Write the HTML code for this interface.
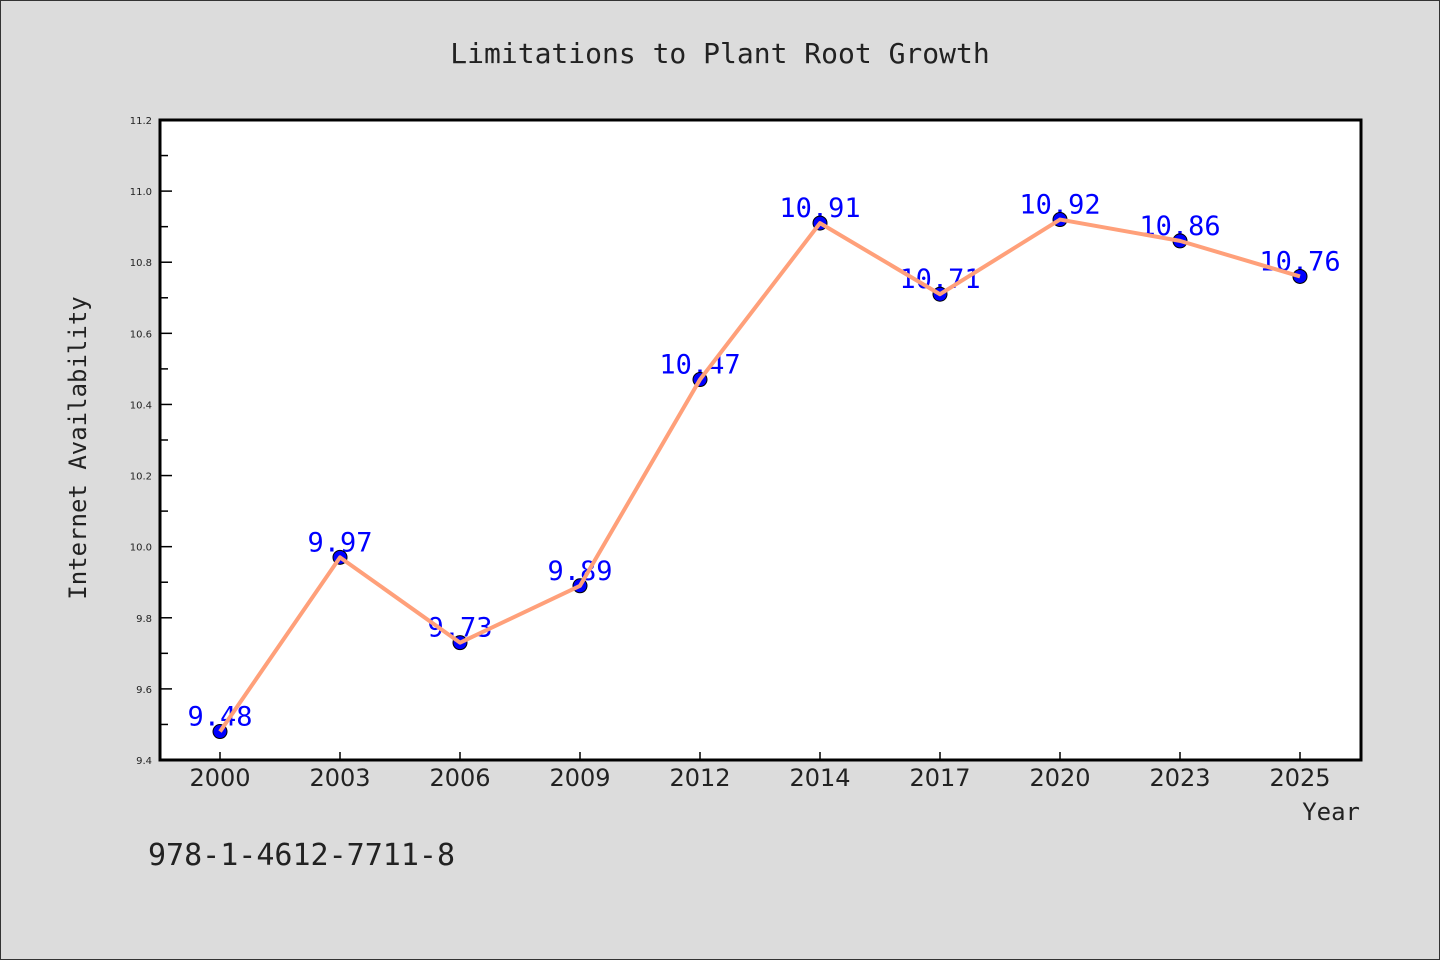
<!DOCTYPE html>
<html><head><meta charset="utf-8"><style>
body{margin:0;background:#dcdcdc;}
svg{display:block}
</style></head><body>
<svg id="chart" width="1440" height="960" xmlns="http://www.w3.org/2000/svg">
<rect x="0.5" y="0.5" width="1439" height="959" fill="#dcdcdc" stroke="#333"/>
<text x="720" y="63" text-anchor="middle" font-family="DejaVu Sans Mono, Liberation Mono, monospace" font-size="28" fill="#222">Limitations to Plant Root Growth</text>
<rect x="160" y="120" width="1201" height="640" fill="#fff"/>
<g id="yticks"></g>
<g id="xticks"></g>
<g id="series"></g>
<rect x="160" y="120" width="1201" height="640" fill="none" stroke="#000" stroke-width="3"/>
<text x="86" y="448" text-anchor="middle" transform="rotate(-90 86 448)" font-family="DejaVu Sans Mono, Liberation Mono, monospace" font-size="24" fill="#222">Internet Availability</text>
<text x="1360" y="820" text-anchor="end" font-family="DejaVu Sans Mono, Liberation Mono, monospace" font-size="24" fill="#222">Year</text>
<text x="148" y="865" font-family="DejaVu Sans Mono, Liberation Mono, monospace" font-size="30" fill="#222">978-1-4612-7711-8</text>
</svg>
<script>
const categories=["2000","2003","2006","2009","2012","2014","2017","2020","2023","2025"];
const values=[9.48,9.97,9.73,9.89,10.47,10.91,10.71,10.92,10.86,10.76];
const yTicks=["9.4","9.6","9.8","10.0","10.2","10.4","10.6","10.8","11.0","11.2"];
const yMin=9.4,yMax=11.2;
const NS="http://www.w3.org/2000/svg";
function xs(i){return 220+i*120;}
function ys(v){return 760-(v-yMin)/(yMax-yMin)*640;}
function mk(tag,attrs,parent){const e=document.createElementNS(NS,tag);for(const k in attrs)e.setAttribute(k,attrs[k]);parent.appendChild(e);return e;}
const yg=document.getElementById('yticks'),xg=document.getElementById('xticks'),sg=document.getElementById('series');
yTicks.forEach(t=>{const v=parseFloat(t),y=ys(v);
 const l=mk('line',{x1:160,x2:172,y1:y,y2:y,stroke:'#000','stroke-width':1.5},yg);
 
 
 const tx=mk('text',{x:152,y:y+4,'text-anchor':'end','font-family':'DejaVu Sans, Liberation Sans, sans-serif','font-size':10,fill:'#222'},yg);
 tx.textContent=t;
 
 
 if(v<yMax-0.01){const ym=ys(v+0.1);
  const m=mk('line',{x1:160,x2:168,y1:ym,y2:ym,stroke:'#000','stroke-width':1.5},yg);
  
  }
});
categories.forEach((c,i)=>{const x=xs(i);
 const l=mk('line',{x1:x,x2:x,y1:760,y2:752,stroke:'#000','stroke-width':1.5},xg);
 
 
 const tx=mk('text',{x:x,y:786,'text-anchor':'middle','font-family':'DejaVu Sans, Liberation Sans, sans-serif','font-size':24,fill:'#222'},xg);
 tx.textContent=c;
 
 
});
values.forEach((v,i)=>{
 const tx=mk('text',{x:xs(i),y:ys(v)-6,'text-anchor':'middle','font-family':'DejaVu Sans Mono, Liberation Mono, monospace','font-size':27,fill:'#0000ff'},sg);
 tx.textContent=v.toFixed(2);
 
 
});
values.forEach((v,i)=>{
 const c=mk('circle',{cx:xs(i),cy:ys(v),r:7,fill:'#0000ff',stroke:'#000','stroke-width':1},sg);
 
 
});
const pl=mk('polyline',{points:values.map((v,i)=>xs(i)+','+ys(v)).join(' '),fill:'none',stroke:'#ffa07a','stroke-width':4,'stroke-linejoin':'round'},sg);


</script>
</body></html>
